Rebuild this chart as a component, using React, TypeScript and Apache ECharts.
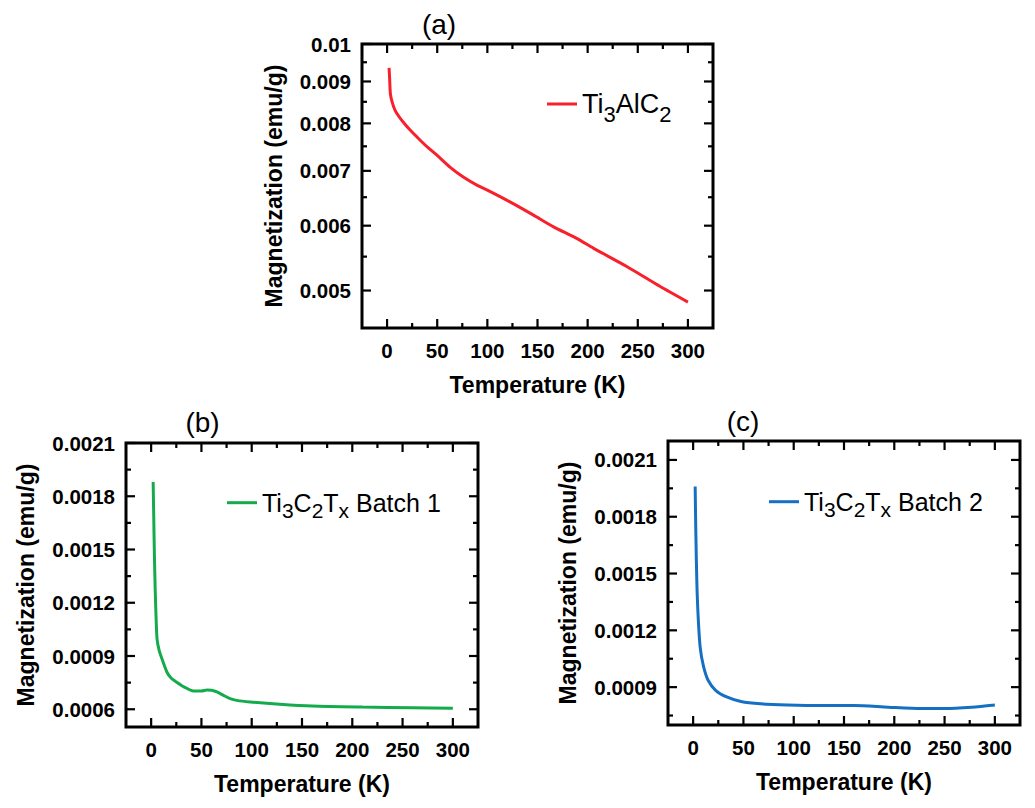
import React, { useEffect, useRef } from 'react';
import * as echarts from 'echarts';

// ---- data ----
const tempTicks = [0, 50, 100, 150, 200, 250, 300];
const tempMinorTicks = [25, 75, 125, 175, 225, 275];

const magTicksA = [0.005, 0.006, 0.007, 0.008, 0.009, 0.01];
const magMinorTicksA = [0.0055, 0.0065, 0.0075, 0.0085, 0.0095];
const magTicksBC = [0.0006, 0.0009, 0.0012, 0.0015, 0.0018, 0.0021];
const magMinorTicksBC = [0.00075, 0.00105, 0.00135, 0.00165, 0.00195];

// (a) Ti3AlC2
const tempA = [2, 2.5, 3.3, 5, 8, 12, 16, 23, 33, 42, 50, 63, 76, 90, 100, 123, 146, 166, 189, 206, 239, 272, 300];
const magA = [0.00935, 0.0091, 0.0087, 0.0085, 0.0083, 0.00815, 0.00803, 0.00785, 0.00763, 0.00745, 0.00731, 0.00707, 0.00688, 0.00672, 0.00663, 0.00641, 0.00618, 0.00598, 0.00579, 0.00563, 0.00535, 0.00506, 0.00484];

// (b) Ti3C2Tx batch 1
const tempB = [2, 2.6, 3.2, 4, 5, 5.9, 8, 10.9, 15.9, 20, 25.8, 33, 42, 50, 55.5, 60, 65.4, 72, 78.6, 85, 98.4, 128, 160, 210, 260, 300];
const magB = [0.00188, 0.00168, 0.00148, 0.00128, 0.0011, 0.000995, 0.00093, 0.000882, 0.000807, 0.000775, 0.000751, 0.000725, 0.000703, 0.000703, 0.000709, 0.000707, 0.000698, 0.000678, 0.00066, 0.00065, 0.000641, 0.000628, 0.000618, 0.000612, 0.000608, 0.000605];

// (c) Ti3C2Tx batch 2
const tempC = [2, 2.7, 3.7, 5, 7, 10.3, 15, 22.6, 34, 47.5, 67, 94, 127, 160, 194, 227, 250, 277, 300];
const magC = [0.00196, 0.00171, 0.00145, 0.00127, 0.00111, 0.00101, 0.000935, 0.000882, 0.000847, 0.000824, 0.000812, 0.000806, 0.000803, 0.000803, 0.000794, 0.000787, 0.000787, 0.000794, 0.000806];

const seriesNames = ['Ti3AlC2', 'Ti3C2Tx Batch 1', 'Ti3C2Tx Batch 2'];
const legendRich: Record<string, string> = {
  'Ti3AlC2': '{n|Ti}{s|3}{n|AlC}{s|2}',
  'Ti3C2Tx Batch 1': '{n|Ti}{s|3}{n|C}{s|2}{n|T}{s|x}{n| Batch 1}',
  'Ti3C2Tx Batch 2': '{n|Ti}{s|3}{n|C}{s|2}{n|T}{s|x}{n| Batch 2}',
};

const FONT = "'Liberation Sans', Arial, Helvetica, sans-serif";
const INK = '#000';
const fmt = (v: number) => String(Number(Number(v).toPrecision(3)));
const zip = (xs: number[], ys: number[]) => xs.map((x, i) => [x, ys[i]]);

const X_MIN = -25;
const X_MAX = 325;

const grids = [
  { left: 362, top: 44, width: 351, height: 284 },
  { left: 126, top: 443, width: 352, height: 284 },
  { left: 668, top: 441, width: 352, height: 284 },
];

function axesFor(gi: number, yType: 'log' | 'value', yMin: number, yMax: number,
  yTicks: number[], yNameGap: number) {
  const label = (vals: number[], margin: number) => ({
    show: true, customValues: vals, formatter: fmt, margin,
    color: INK, fontSize: 20.5, fontWeight: 'bold', fontFamily: FONT,
  });
  const nameStyle = { color: INK, fontSize: 23, fontWeight: 'bold', fontFamily: FONT };
  return {
    x: {
      gridIndex: gi, type: 'value', min: X_MIN, max: X_MAX, position: 'bottom',
      axisLine: { show: false, onZero: false }, axisTick: { show: false }, splitLine: { show: false },
      axisLabel: label(tempTicks, 12),
      name: 'Temperature (K)', nameLocation: 'middle', nameGap: 45, nameTextStyle: nameStyle,
    },
    y: {
      gridIndex: gi, type: yType, min: yMin, max: yMax, position: 'left',
      axisLine: { show: false, onZero: false }, axisTick: { show: false }, splitLine: { show: false },
      axisLabel: label(yTicks, 11),
      name: 'Magnetization (emu/g)', nameLocation: 'middle', nameGap: yNameGap, nameTextStyle: nameStyle,
    },
  };
}

// rows: [x, y, kind]; kind 0 = x major, 1 = x minor, 2 = y major, 3 = y minor, 4 = frame
function tickRows(yMin: number, yMax: number, yTicks: number[], yMinor: number[]) {
  const inY = (v: number) => v >= yMin && v <= yMax;
  return [
    [0, yMin, 4],
    ...tempTicks.map(v => [v, yMin, 0]),
    ...tempMinorTicks.map(v => [v, yMin, 1]),
    ...yTicks.filter(inY).map(v => [0, v, 2]),
    ...yMinor.filter(inY).map(v => [0, v, 3]),
  ];
}

const renderTick = (params: any, api: any) => {
  const cs = params.coordSys;
  const kind = api.value(2);
  if (kind === 4) {
    return {
      type: 'rect',
      shape: { x: cs.x, y: cs.y, width: cs.width, height: cs.height },
      style: { fill: 'none', stroke: INK, lineWidth: 3 },
    };
  }
  const p = api.coord([api.value(0), api.value(1)]);
  const len = kind % 2 === 0 ? 9 : 5;
  const style = { stroke: INK, lineWidth: 2.2 };
  if (kind < 2) {
    const bottom = cs.y + cs.height;
    return {
      type: 'group',
      children: [
        { type: 'line', shape: { x1: p[0], y1: bottom, x2: p[0], y2: bottom - len }, style },
        { type: 'line', shape: { x1: p[0], y1: cs.y, x2: p[0], y2: cs.y + len }, style },
      ],
    };
  }
  const right = cs.x + cs.width;
  return {
    type: 'group',
    children: [
      { type: 'line', shape: { x1: cs.x, y1: p[1], x2: cs.x + len, y2: p[1] }, style },
      { type: 'line', shape: { x1: right, y1: p[1], x2: right - len, y2: p[1] }, style },
    ],
  };
};

function legendFor(name: string, left: number, top: number, big: boolean) {
  return {
    data: [name], left, top, padding: 0, itemWidth: 30, itemHeight: 3, icon: 'rect',
    selectedMode: false,
    formatter: (n: string) => legendRich[n],
    textStyle: {
      color: INK, fontFamily: FONT,
      rich: big
        ? {
            n: { fontSize: 27, lineHeight: 48, verticalAlign: 'middle', fontFamily: FONT, color: INK },
            s: { fontSize: 22, lineHeight: 22, verticalAlign: 'top', padding: [23.5, 0, 0, 0], fontFamily: FONT, color: INK },
          }
        : {
            n: { fontSize: 25, lineHeight: 42, verticalAlign: 'middle', fontFamily: FONT, color: INK },
            s: { fontSize: 21, lineHeight: 21, verticalAlign: 'top', padding: [18, 0, 0, 0], fontFamily: FONT, color: INK },
          },
    },
  };
}

const App: React.FC = () => {
  const chartRef = useRef<HTMLDivElement | null>(null);

  useEffect(() => {
    const chart = echarts.init(chartRef.current!, undefined, { renderer: 'svg' });

    const a = axesFor(0, 'log', 0.0045, 0.01, magTicksA, 76.5);
    const b = axesFor(1, 'value', 0.0005, 0.0021, magTicksBC, 88.7);
    const c = axesFor(2, 'value', 0.0007, 0.0022, magTicksBC, 89);

    const titleStyle = { fill: INK, fontSize: 28, fontFamily: FONT, align: 'center', verticalAlign: 'middle' };
    const lineCommon = { type: 'line', symbol: 'none', smooth: 0.25, lineStyle: { width: 3 } };
    // frame + inward ticks drawn on their own layer so nothing can sit over them
    const tickCommon = { type: 'custom', renderItem: renderTick, clip: false, zlevel: 1, z: 50, encode: { x: 0, y: 1 } };

    const option: any = {
      animation: false,
      grid: grids,
      xAxis: [a.x, b.x, c.x],
      yAxis: [a.y, b.y, c.y],
      legend: [
        legendFor(seriesNames[0], 547, 80, true),
        legendFor(seriesNames[1], 227, 481.7, false),
        legendFor(seriesNames[2], 769, 480.7, false),
      ],
      graphic: [
        { type: 'text', x: 439, y: 24.3, style: { ...titleStyle, text: '(a)' } },
        { type: 'text', x: 202.5, y: 422.6, style: { ...titleStyle, text: '(b)' } },
        { type: 'text', x: 743, y: 421, style: { ...titleStyle, text: '(c)' } },
      ],
      series: [
        { ...lineCommon, name: seriesNames[0], xAxisIndex: 0, yAxisIndex: 0, data: zip(tempA, magA), color: '#f8202a' },
        { ...lineCommon, name: seriesNames[1], xAxisIndex: 1, yAxisIndex: 1, data: zip(tempB, magB), color: '#14ab4c' },
        { ...lineCommon, name: seriesNames[2], xAxisIndex: 2, yAxisIndex: 2, data: zip(tempC, magC), color: '#1470c2' },
        { ...tickCommon, name: 'ticks-a', xAxisIndex: 0, yAxisIndex: 0, data: tickRows(0.0045, 0.01, magTicksA, magMinorTicksA) },
        { ...tickCommon, name: 'ticks-b', xAxisIndex: 1, yAxisIndex: 1, data: tickRows(0.0005, 0.0021, magTicksBC, magMinorTicksBC) },
        { ...tickCommon, name: 'ticks-c', xAxisIndex: 2, yAxisIndex: 2, data: tickRows(0.0007, 0.0022, magTicksBC, magMinorTicksBC) },
      ],
    };

    chart.setOption(option);
    return () => chart.dispose();
  }, []);

  return (
    <div
      ref={chartRef}
      style={{ position: 'absolute', left: 0, top: 0, width: '1035px', height: '808px' }}
    />
  );
};

export default App;
